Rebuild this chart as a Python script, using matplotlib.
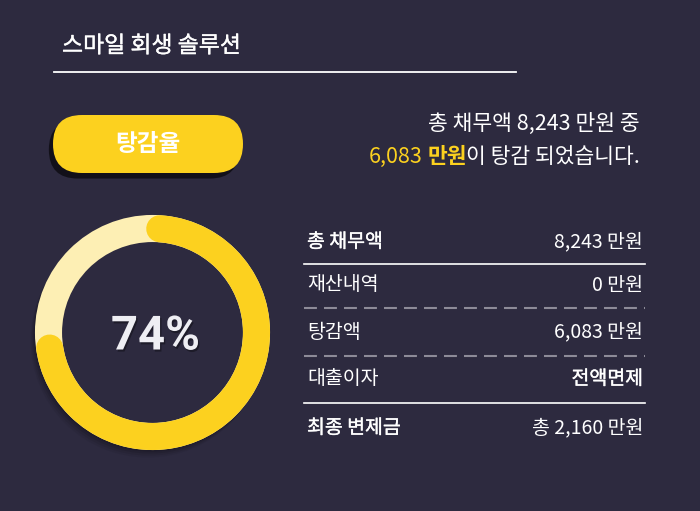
import numpy as np
import matplotlib.pyplot as plt
import matplotlib.patheffects as pe
from matplotlib.patches import FancyBboxPatch, Circle

# 데이터
title = "스마일 회생 솔루션"
badge = "탕감율"
total_debt = 8243      # 만원
reduced = 6083         # 만원
final_pay = 2160       # 만원
pct = 74
row_labels = ["총 채무액", "재산내역", "탕감액", "대출이자", "최종 변제금"]
row_values = ["8,243 만원", "0 만원", "6,083 만원", "전액면제", "총 2,160 만원"]
row_medium = [True, False, False, False, True]
val_medium = [False, False, False, True, False]
sep_styles = ["solid", "dashed", "dashed", "solid"]

BG = "#2d2a3f"
YEL = "#fcd11f"
TRACK = "#fdefb4"
KR = ["Noto Sans CJK KR", "DejaVu Sans"]

plt.rcParams["font.family"] = KR

# 중간 굵기 흉내 (얇은 외곽선)
MED = [pe.withStroke(linewidth=0.25, foreground="white")]

fig = plt.figure(figsize=(7, 5.11), dpi=100, facecolor=BG)
ax = fig.add_axes([0, 0, 1, 1])
ax.set_xlim(0, 700)
ax.set_ylim(511, 0)
ax.axis("off")

# 제목
ax.text(62, 46, title, fontsize=16.5, color="white", va="center", ha="left", path_effects=MED)
ax.plot([54, 516], [72, 72], color="white", lw=1.3)

# 탕감율 버튼
pill = FancyBboxPatch((53, 115), 190, 58, boxstyle="round,pad=0,rounding_size=29",
                      fc=YEL, ec="none",
                      path_effects=[pe.withSimplePatchShadow(offset=(-3, -4), shadow_rgbFace="black", alpha=0.6)])
ax.add_patch(pill)
ax.text(148, 144, badge, fontsize=17, fontweight="bold", color="white", ha="center", va="center")

# 도넛
cx, cy, r = 152.5, 332.5, 104
ring_lw = 19.5
for k, a in [(8, 0.05), (6, 0.07), (4, 0.09), (2, 0.11)]:
    ax.add_patch(Circle((cx - k * 0.6, cy + k), r + 5, fill=False, lw=ring_lw * 0.6, ec="black", alpha=a))
track = Circle((cx, cy), r, fill=False, lw=ring_lw, ec=TRACK)
ax.add_patch(track)
start = np.deg2rad(86)
sweep = np.deg2rad(pct / 100 * 360 - 9)
th2 = np.linspace(start, start - sweep, 300)
ax.plot(cx + r * np.cos(th2), cy - r * np.sin(th2), color=YEL, lw=ring_lw, solid_capstyle="round")
ax.text(cx + 3, cy + 4, f"{pct}%", fontsize=34, fontweight="bold", color="#eeeef3",
        family=["Roboto", "DejaVu Sans"], ha="center", va="center",
        path_effects=[pe.SimplePatchShadow(offset=(1, -1.5), shadow_rgbFace="black", alpha=0.35), pe.Normal()])

# 요약 문구 (오른쪽 정렬, 여러 조각)
fig.canvas.draw()
rend = fig.canvas.get_renderer()


def right_parts(x, y, parts, size):
    for s, c, w, gap in reversed(parts):
        t = ax.text(x, y, s, fontsize=size, color=c, fontweight=w, ha="right", va="baseline")
        x -= t.get_window_extent(renderer=rend).width + gap


right_parts(640, 130, [(f"총 채무액 {total_debt:,} 만원 중", "white", "normal", 0)], 15.5)
right_parts(640, 163, [(f"{reduced:,}", YEL, "normal", 0), ("만원", YEL, "bold", 5),
                       ("이 탕감 되었습니다.", "white", "normal", -1)], 15.5)

# 표
row_y = [242, 285, 332, 379, 428]
sep_y = [264, 308, 356, 403]
for y, lab, val, lm, vm in zip(row_y, row_labels, row_values, row_medium, val_medium):
    ax.text(307, y, lab, fontsize=14, color="white", ha="left", va="center",
            path_effects=MED if lm else None)
    ax.text(643, y, val, fontsize=14, color="white", ha="right", va="center",
            path_effects=MED if vm else None)
for y, st in zip(sep_y, sep_styles):
    if st == "solid":
        ax.plot([304, 645], [y, y], color="white", lw=1.2)
    else:
        ax.plot([304, 645], [y, y], color="#8d8b98", lw=1.5, dashes=(6.2, 3.4))

fig.savefig("out.png", dpi=100, facecolor=BG)
